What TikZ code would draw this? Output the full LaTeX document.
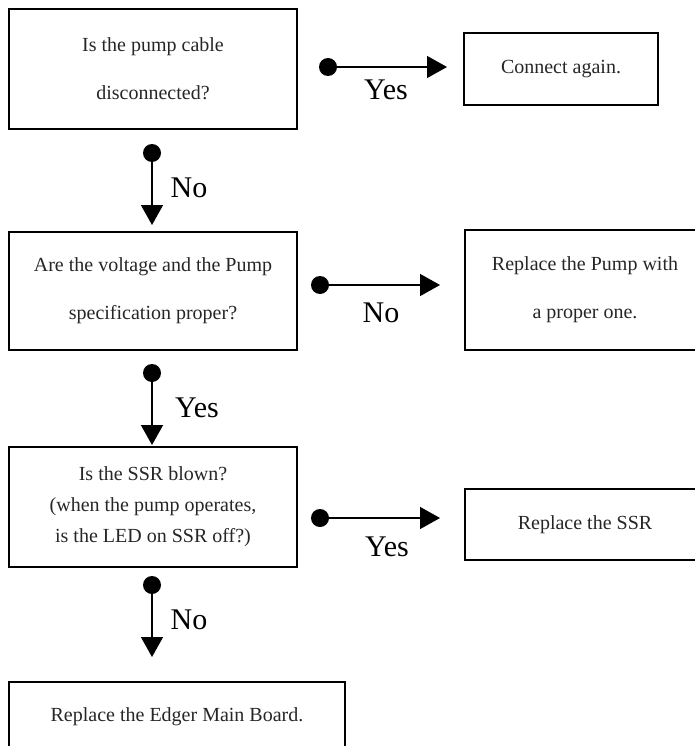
\documentclass[tikz,border=0pt]{standalone}
\usepackage{fontspec}
\setmainfont{Liberation Serif}
\usetikzlibrary{arrows.meta}

\tikzset{
  box/.style={draw, line width=1.6pt, inner sep=0pt, align=center, text=black!85,
    font=\fontsize{20}{31}\selectfont},
  dot/.style={circle, fill, inner sep=0pt, minimum size=18pt},
  flow/.style={line width=1.5pt, -{Triangle[length=20pt, width=22pt]}},
  lbl/.style={font=\fontsize{30}{36}\selectfont, inner sep=0pt}
}

\begin{document}
\begin{tikzpicture}[x=1pt, y=-1pt]
        \useasboundingbox (0, 0) rectangle (695, 746);

        % questions on the left
        \node[box, minimum width=288pt, minimum height=120pt] (cable) at (153, 69)
          {Is the pump cable\\[17pt] disconnected?};
        \node[box, minimum width=288pt, minimum height=118pt] (spec) at (153, 291)
          {Are the voltage and the Pump\\[17pt] specification proper?};
        \node[box, minimum width=288pt, minimum height=120pt] (ssr) at (153, 507)
          {Is the SSR blown?\\ (when the pump operates,\\ is the LED on SSR off?)};
        \node[box, minimum width=336pt, minimum height=70pt] (board) at (177, 717)
          {Replace the Edger Main Board.};

        % actions on the right
        \node[box, minimum width=194pt, minimum height=72pt] (reconnect) at (561, 69)
          {Connect again.};
        \node[box, minimum width=240pt, minimum height=120pt] (newpump) at (585, 290)
          {Replace the Pump with\\[17pt] a proper one.};
        \node[box, minimum width=240pt, minimum height=71pt] (newssr) at (585, 524.5)
          {Replace the SSR};

        % yes / no arrows
        \node[dot] (d1) at (328, 67) {};
        \coordinate (t1) at (447, 67);
        \draw[flow] (d1.center) -- (t1);
        \node[lbl] (l1) at (386, 90) {Yes};

        \node[dot] (d2) at (152, 153) {};
        \coordinate (t2) at (152, 225);
        \draw[flow] (d2.center) -- (t2);
        \node[lbl] (l2) at (189, 188) {No};

        \node[dot] (d3) at (320, 285) {};
        \coordinate (t3) at (440, 285);
        \draw[flow] (d3.center) -- (t3);
        \node[lbl] (l3) at (381, 313) {No};

        \node[dot] (d4) at (152, 373) {};
        \coordinate (t4) at (152, 445);
        \draw[flow] (d4.center) -- (t4);
        \node[lbl] (l4) at (197, 408) {Yes};

        \node[dot] (d5) at (320, 518) {};
        \coordinate (t5) at (440, 518);
        \draw[flow] (d5.center) -- (t5);
        \node[lbl] (l5) at (387, 547) {Yes};

        \node[dot] (d6) at (152, 585) {};
        \coordinate (t6) at (152, 657);
        \draw[flow] (d6.center) -- (t6);
        \node[lbl] (l6) at (189, 620) {No};
      \end{tikzpicture}
\end{document}
